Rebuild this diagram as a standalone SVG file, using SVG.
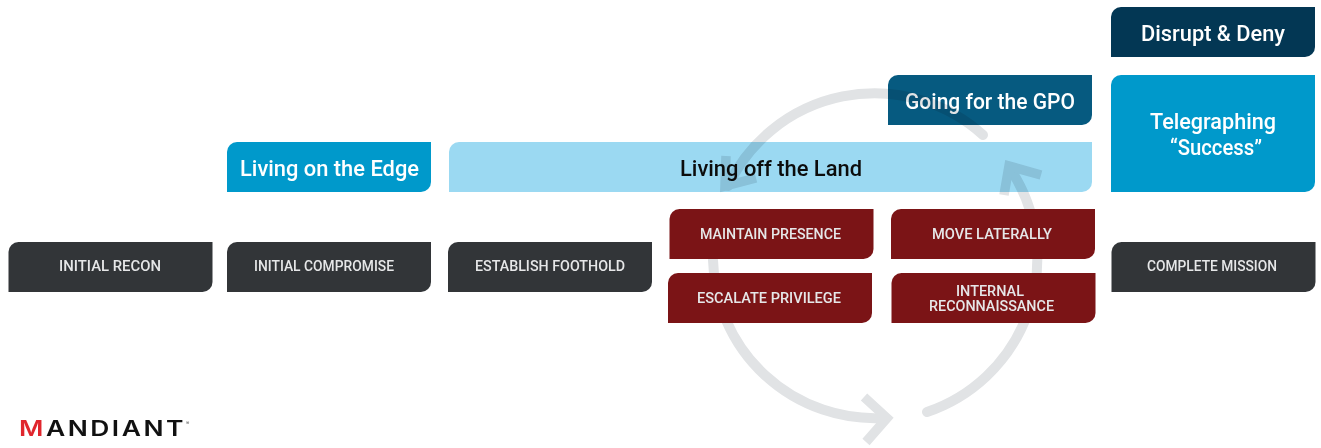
<svg xmlns="http://www.w3.org/2000/svg" width="1321" height="448" viewBox="0 0 1321 448">
<style>
.lg{font:500 22px Roboto,"Liberation Sans",sans-serif;fill:#fff}
.sm{font:500 14px Roboto,"Liberation Sans",sans-serif;fill:#e6e7e8}
.dark{fill:#323538}.red{fill:#7b1416}.blue{fill:#0099cb}.light{fill:#9bd9f2}.gpo{fill:#065a80}.navy{fill:#033754}
.arc{fill:none;stroke:#e1e3e5;stroke-width:10;stroke-linecap:round}
.head{fill:none;stroke:#e1e3e5;stroke-width:9.500;stroke-linejoin:miter;stroke-miterlimit:10}
#connectors{mix-blend-mode:multiply}
</style>
<defs>
<path id="b" d="M10 0H204V40A10 10 0 0 1 194 50H0V10A10 10 0 0 1 10 0Z"/>
</defs>
<rect width="1321" height="448" fill="#fff"/>

<g id="living-edge"><use href="#b" class="blue" transform="translate(227 142)"/><text class="lg" x="240" y="176" textLength="179" lengthAdjust="spacingAndGlyphs">Living on the Edge</text></g>
<g id="living-land"><path class="light" d="M459 142H1092V182A10 10 0 0 1 1082 192H449V152A10 10 0 0 1 459 142Z"/><text class="lg" style="fill:#0c0c0c" x="680" y="176" textLength="182" lengthAdjust="spacingAndGlyphs">Living off the Land</text></g>
<g id="going-gpo"><use href="#b" class="gpo" transform="translate(888 75)"/><text class="lg" x="905" y="109" textLength="170" lengthAdjust="spacingAndGlyphs">Going for the GPO</text></g>

<g id="connectors">
<path class="arc" d="M983 135A162 162 0 0 0 728 186"/>
<polyline class="head" points="726,156 725,186 756,178"/>
<path class="arc" d="M713 260A162 162 0 0 0 884 418"/>
<polyline class="head" points="864,397 887,418 866,442"/>
<path class="arc" d="M927 412A162 162 0 0 0 1011 170"/>
<polyline class="head" points="1004,195 1009,166 1041,175"/>
</g>

<g id="disrupt"><use href="#b" class="navy" transform="translate(1111 7)"/><text class="lg" x="1141" y="41" textLength="144" lengthAdjust="spacingAndGlyphs">Disrupt &amp; Deny</text></g>
<g id="telegraphing"><path class="blue" d="M1121 75H1315V182A10 10 0 0 1 1305 192H1111V85A10 10 0 0 1 1121 75Z"/><text class="lg" x="1150" y="129" textLength="126" lengthAdjust="spacingAndGlyphs">Telegraphing</text><text class="lg" x="1170" y="155" textLength="92" lengthAdjust="spacingAndGlyphs">“Success”</text></g>

<g id="initial-recon"><use href="#b" class="dark" transform="translate(8.500 242)"/><text class="sm" x="59" y="271" textLength="102" lengthAdjust="spacingAndGlyphs">INITIAL RECON</text></g>
<g id="initial-compromise"><use href="#b" class="dark" transform="translate(227 242)"/><text class="sm" x="254" y="271" textLength="140" lengthAdjust="spacingAndGlyphs">INITIAL COMPROMISE</text></g>
<g id="establish-foothold"><use href="#b" class="dark" transform="translate(448 242)"/><text class="sm" x="475" y="271" textLength="150" lengthAdjust="spacingAndGlyphs">ESTABLISH FOOTHOLD</text></g>
<g id="complete-mission"><use href="#b" class="dark" transform="translate(1111.500 242)"/><text class="sm" x="1147" y="271" textLength="130" lengthAdjust="spacingAndGlyphs">COMPLETE MISSION</text></g>
<g id="maintain-presence"><use href="#b" class="red" transform="translate(669.500 209)"/><text class="sm" x="700" y="239" textLength="141" lengthAdjust="spacingAndGlyphs">MAINTAIN PRESENCE</text></g>
<g id="move-laterally"><use href="#b" class="red" transform="translate(891 209)"/><text class="sm" x="932" y="239" textLength="120" lengthAdjust="spacingAndGlyphs">MOVE LATERALLY</text></g>
<g id="escalate-privilege"><use href="#b" class="red" transform="translate(668 273)"/><text class="sm" x="697" y="303" textLength="144" lengthAdjust="spacingAndGlyphs">ESCALATE PRIVILEGE</text></g>
<g id="internal-recon"><use href="#b" class="red" transform="translate(891.500 273)"/><text class="sm" x="956" y="296" textLength="68" lengthAdjust="spacingAndGlyphs">INTERNAL</text><text class="sm" x="929" y="311" textLength="125" lengthAdjust="spacingAndGlyphs">RECONNAISSANCE</text></g>

<g id="logo"><text x="19" y="436" textLength="167" lengthAdjust="spacingAndGlyphs" style="font:600 21px Inter,'Liberation Sans',sans-serif;letter-spacing:2px;fill:#111"><tspan fill="#e0262d">M</tspan>ANDIANT</text><text x="186" y="425" style="font:400 5px Inter,'Liberation Sans',sans-serif;fill:#555">®</text></g>
</svg>
